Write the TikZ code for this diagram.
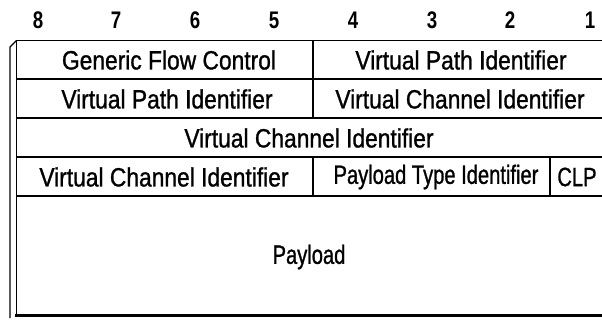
\documentclass[tikz,border=0pt]{standalone}
\usepackage{fontspec}
\setmainfont{Liberation Sans}
\newfontfamily\condfont[FakeStretch=0.86,FakeBold=1]{Liberation Sans}
\newfontfamily\narrowfont[FakeStretch=0.76,FakeBold=1]{Liberation Sans}
\newfontfamily\digitfont[FakeStretch=0.78]{Liberation Sans Bold}
\begin{document}
\begin{tikzpicture}[x=1pt,y=-1pt,
  rule/.style={line width=1.9pt,black},
  thickrule/.style={line width=3.2pt,black},
  label/.style={font=\condfont\fontsize{26.5}{28}\selectfont,inner sep=0pt,anchor=center},
  narrowlabel/.style={font=\narrowfont\fontsize{26.5}{28}\selectfont,inner sep=0pt,anchor=center},
  bitnum/.style={font=\digitfont\fontsize{24}{26}\selectfont,inner sep=0pt,anchor=center}]
\useasboundingbox (0,0) rectangle (602,320);
% bit numbers
\foreach \i/\x in {8/38,7/116,6/195,5/274,4/353,3/432,2/510,1/590}
  \node[bitnum] (b\i) at (\x,20) {\i};
% left edge (3D strip)
\draw[rule,line width=1.4pt] (10,318) -- (10,47) -- (16.5,40.5);
\draw[rule] (16.5,40.5) -- (16.5,316);
% horizontal rules
\draw[rule] (16.5,40.5) -- (602,40.5);
\draw[rule] (16.5,79) -- (602,79);
\draw[rule] (16.5,118) -- (602,118);
\draw[rule] (16.5,157) -- (602,157);
\draw[rule] (16.5,196) -- (602,196);
\draw[thickrule] (15,315.5) -- (602,315.5);
% vertical dividers
\draw[rule] (313,40.5) -- (313,118);
\draw[rule] (313,157) -- (313,196);
\draw[rule] (550,157) -- (550,196);
% texts
\node[label] (gfc) at (169,60) {Generic Flow Control};
\node[label] (vpi1) at (461,60) {Virtual Path Identifier};
\node[label] (vpi2) at (167,99) {Virtual Path Identifier};
\node[label] (vci1) at (460,99) {Virtual Channel Identifier};
\node[label] (vci2) at (309,138) {Virtual Channel Identifier};
\node[label] (vci3) at (164,177) {Virtual Channel Identifier};
\node[narrowlabel] (pti) at (436,177) {Payload Type Identifier};
\node[narrowlabel] (clp) at (577,177) {CLP};
\node[narrowlabel] (pay) at (309,257) {Payload};
\end{tikzpicture}
\end{document}
